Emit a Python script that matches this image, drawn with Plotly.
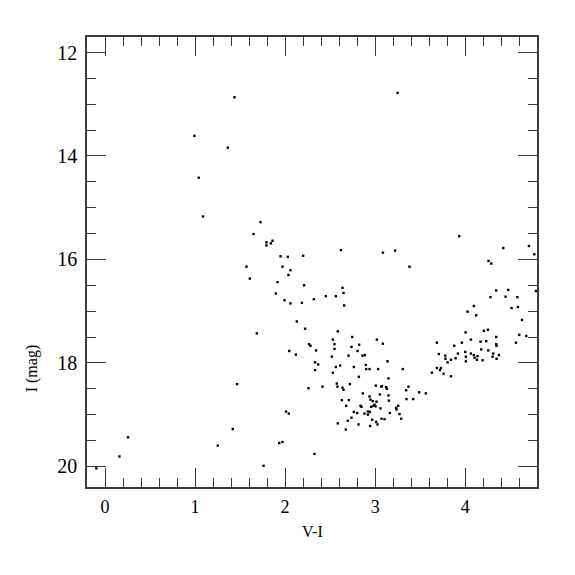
import plotly.graph_objects as go

# V-I colour values
vi = [
    1.438, 0.993, 1.363, 1.041, 1.089, 1.727, 1.649, 1.793, 1.793, 1.841, 1.860, 1.949, 2.030, 2.200,
    3.249, 2.619, 3.086, 3.222, 3.933, 4.422, 4.708, 4.767,
    1.571, 1.971, 2.060, 2.037, 1.608, 1.916, 2.211, 1.897, 1.993, 2.060, 2.186, 2.130, 2.222, 1.686,
    2.267, 2.045, 2.119, 1.467, 2.260, 2.011, 2.041, 1.419, 0.256, 1.934, 1.971, 1.252, 0.160, 1.760,
    -0.096, 2.326,
    4.259, 4.289, 3.381, 2.637, 2.648, 2.319, 2.452, 2.563, 2.656, 4.344, 4.478, 4.785, 4.281, 4.448,
    4.578, 4.096, 4.515, 4.585, 4.026, 4.122, 4.630, 2.585, 4.004, 4.207, 4.252, 4.600, 4.678, 2.744,
    2.530, 3.019, 3.685, 2.282, 2.548, 2.822, 3.085, 4.344, 4.063, 3.963, 4.170, 4.233, 4.344, 4.348,
    4.563, 2.548, 2.737, 3.878, 2.344, 2.804, 4.000, 4.063, 4.178, 4.256, 4.311, 3.778, 3.919, 3.707,
    2.704, 2.859, 2.885, 2.519, 3.781, 3.841, 3.893, 3.804, 4.007, 4.007, 4.096, 4.137, 4.104, 4.130,
    4.193, 4.304, 4.348, 4.374, 3.137, 2.333, 2.367, 2.611, 2.763, 2.896, 2.900, 2.937, 3.033, 2.563,
    3.307, 3.685, 3.719, 3.730, 2.333, 2.530, 3.630, 3.759, 3.841, 2.819, 3.148,
    2.415, 2.574, 2.581, 2.637, 2.648, 2.719, 3.007, 3.067, 3.074, 3.122, 3.130, 3.370, 3.344, 3.489,
    3.563, 2.863, 2.937, 3.052, 3.148, 2.630, 2.707, 2.948, 2.974, 3.015, 3.152, 3.348, 3.422, 2.678,
    2.837, 2.848, 2.956, 2.981, 2.993, 3.004, 3.059, 3.163, 3.233, 3.256, 3.237, 2.763, 2.800, 2.881,
    2.919, 2.941, 2.919, 3.270, 2.737, 3.289, 2.967, 3.070, 3.104, 2.696, 3.011, 3.026, 2.585, 2.815,
    2.944, 2.674,
]

# I magnitudes
imag = [
    12.865, 13.61, 13.84, 14.42, 15.17, 15.28, 15.51, 15.67, 15.73, 15.69, 15.64, 15.94, 15.95, 15.93,
    12.78, 15.82, 15.87, 15.83, 15.55, 15.78, 15.74, 15.90,
    16.14, 16.14, 16.21, 16.30, 16.37, 16.44, 16.50, 16.66, 16.79, 16.85, 16.84, 17.20, 17.34, 17.43,
    17.64, 17.77, 17.84, 18.41, 18.49, 18.94, 18.98, 19.28, 19.44, 19.55, 19.53, 19.60, 19.81, 19.99,
    20.04, 19.76,
    16.03, 16.08, 16.14, 16.55, 16.65, 16.77, 16.71, 16.71, 16.89, 16.60, 16.59, 16.61, 16.73, 16.72,
    16.73, 16.90, 16.94, 16.92, 17.01, 17.08, 17.17, 17.39, 17.41, 17.38, 17.36, 17.46, 17.48, 17.50,
    17.55, 17.55, 17.61, 17.67, 17.64, 17.65, 17.63, 17.50, 17.55, 17.61, 17.59, 17.58, 17.64, 17.67,
    17.61, 17.73, 17.69, 17.67, 17.76, 17.77, 17.79, 17.82, 17.74, 17.76, 17.82, 17.86, 17.82, 17.83,
    17.86, 17.86, 17.85, 17.88, 17.92, 17.94, 17.91, 17.99, 17.88, 17.97, 17.85, 17.87, 17.90, 17.94,
    17.95, 17.88, 17.92, 17.85, 17.97, 17.99, 18.03, 18.05, 18.08, 18.04, 18.12, 18.12, 18.12, 18.08,
    18.12, 18.10, 18.14, 18.10, 18.14, 18.19, 18.19, 18.21, 18.26, 18.27, 18.30,
    18.46, 18.40, 18.46, 18.48, 18.52, 18.41, 18.44, 18.46, 18.45, 18.47, 18.50, 18.46, 18.53, 18.57,
    18.59, 18.59, 18.65, 18.61, 18.63, 18.72, 18.72, 18.71, 18.74, 18.75, 18.73, 18.70, 18.70, 18.83,
    18.83, 18.85, 18.85, 18.83, 18.81, 18.84, 18.88, 18.97, 18.87, 18.83, 18.90, 18.95, 18.97, 18.98,
    18.94, 18.95, 19.00, 18.99, 19.06, 19.08, 19.10, 19.08, 19.09, 19.12, 19.14, 19.19, 19.17, 19.19,
    19.22, 19.29,
]

x_ticks = [0, 1, 2, 3, 4]
y_ticks = [12, 14, 16, 18, 20]
x_title = "V-I"
y_title = "I (mag)"

SERIF = "Liberation Serif"
line_col = "#3a3a3a"

fig = go.Figure()
fig.add_trace(go.Scatter(
    x=vi, y=imag, mode="markers",
    marker=dict(symbol="square", size=2.4, color="black", line=dict(width=0)),
    showlegend=False, hoverinfo="x+y",
))

fig.update_layout(
    width=575, height=575,
    margin=dict(l=79, r=46, t=29, b=96),
    plot_bgcolor="white", paper_bgcolor="white",
    font=dict(family=SERIF, color="black"),
    xaxis=dict(
        range=[-0.2, 4.797], tickvals=x_ticks, ticktext=[str(v) for v in x_ticks],
        ticks="inside", ticklen=19, tickwidth=1.2, tickcolor=line_col,
        minor=dict(dtick=0.2, tick0=0, ticks="inside", ticklen=9, tickwidth=1, tickcolor=line_col),
        showline=True, linecolor=line_col, linewidth=1.5, mirror="allticks",
        showgrid=False, zeroline=False,
        tickfont=dict(family=SERIF, size=18, color="black"),
        ticklabelstandoff=3,
    ),
    yaxis=dict(
        range=[20.4, 11.7], tickvals=y_ticks, ticktext=[str(v) for v in y_ticks],
        ticks="inside", ticklen=19, tickwidth=1.2, tickcolor=line_col,
        minor=dict(dtick=0.5, tick0=0, ticks="inside", ticklen=9, tickwidth=1, tickcolor=line_col),
        showline=True, linecolor=line_col, linewidth=1.5, mirror="allticks",
        showgrid=False, zeroline=False,
        tickfont=dict(family=SERIF, size=20, color="black"),
        ticklabelstandoff=4,
    ),
    annotations=[
        dict(text=x_title, xref="paper", yref="paper", x=0.5, y=-0.098,
             xanchor="center", yanchor="middle", showarrow=False,
             font=dict(family=SERIF, size=16, color="black")),
        dict(text=y_title, xref="paper", yref="paper", x=-0.122, y=0.264,
             xanchor="center", yanchor="middle", showarrow=False, textangle=-90,
             font=dict(family=SERIF, size=16, color="black")),
    ],
)

fig.write_html("out.html")
